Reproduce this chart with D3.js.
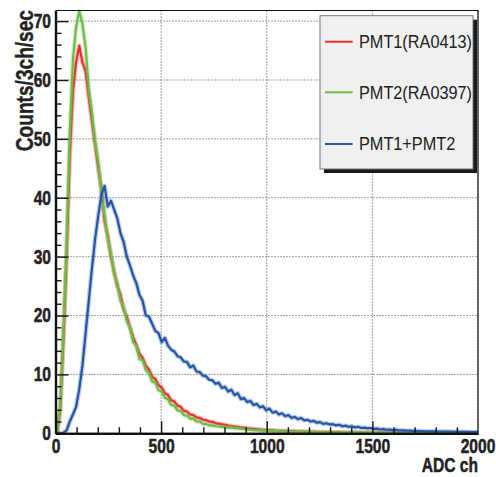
<!DOCTYPE html>
<html>
<head>
<meta charset="utf-8">
<script src="https://cdn.jsdelivr.net/npm/d3@7"></script>
<style>
  body { margin: 0; background: #fff; }
  svg { display: block; }
</style>
</head>
<body>
<div id="chart"></div>
<script>
// histogram bins are 15 ADC ch wide, starting at 0
const binWidth = 15

const pmt1 = [
  0, 4, 16, 30, 47, 58, 63, 65.8, 63, 61.5,
  57, 53, 49, 45, 41.5, 36, 33.5, 30, 27.5, 25,
  23.5, 21, 19.8, 18, 16.3, 15, 13.5, 12.8, 11.5, 10.8,
  9.6, 9.2, 8.2, 7.8, 6.8, 6.5, 5.6, 5.4, 4.7, 4.5,
  3.8, 3.7, 3.2, 3.1, 2.7, 2.6, 2.3, 2.25, 2.0, 1.95,
  1.7, 1.65, 1.5, 1.45, 1.3, 1.25, 1.1, 1.1, 0.95, 0.95,
  0.85, 0.8, 0.75, 0.7, 0.65, 0.6, 0.55, 0.55, 0.5, 0.45,
  0.42, 0.4, 0.38, 0.36, 0.34, 0.32, 0.3, 0.3, 0.28, 0.26,
  0.25, 0.24, 0.22, 0.21, 0.2, 0.19, 0.18, 0.17, 0.16, 0.15,
  0.14, 0.14, 0.13, 0.12, 0.12, 0.11, 0.1, 0.1, 0.1, 0.09,
  0.09, 0.09, 0.08, 0.08, 0.08, 0.07, 0.07, 0.07, 0.07, 0.06,
  0.06, 0.06, 0.06, 0.06, 0.05, 0.05, 0.05, 0.05, 0.05, 0.05,
  0.05, 0.05, 0.04, 0.04, 0.04, 0.04, 0.04, 0.04, 0.04, 0.04,
  0.04, 0.04, 0.04, 0.04
]

const pmt2 = [
  0, 4.5, 17.5, 32, 51, 63.5, 69, 71.8, 69.5, 65.5,
  58.5, 54.5, 49.5, 46, 40.5, 37, 33, 30.5, 27, 25.5,
  22.5, 21.5, 19, 18, 15.5, 14.8, 12.6, 12.4, 10.7, 10.2,
  8.8, 8.6, 7.3, 7.1, 6.0, 5.8, 4.8, 4.7, 3.9, 3.8,
  3.1, 3.0, 2.5, 2.5, 2.0, 2.0, 1.6, 1.6, 1.35, 1.35,
  1.2, 1.15, 1.1, 1.05, 0.95, 1.0, 0.85, 0.9, 0.75, 0.8,
  0.65, 0.6, 0.55, 0.58, 0.48, 0.5, 0.42, 0.45, 0.38, 0.4,
  0.34, 0.36, 0.3, 0.32, 0.27, 0.29, 0.24, 0.26, 0.22, 0.23,
  0.2, 0.21, 0.18, 0.19, 0.16, 0.17, 0.15, 0.15, 0.13, 0.14,
  0.12, 0.13, 0.11, 0.12, 0.1, 0.11, 0.09, 0.1, 0.09, 0.09,
  0.08, 0.08, 0.08, 0.07, 0.07, 0.07, 0.06, 0.06, 0.06, 0.06,
  0.05, 0.05, 0.05, 0.05, 0.05, 0.05, 0.04, 0.04, 0.04, 0.04,
  0.04, 0.04, 0.03, 0.03, 0.03, 0.03, 0.03, 0.03, 0.03, 0.03,
  0.03, 0.03, 0.03, 0.03
]

const pmtSum = [
  0, 0, 0.1, 0.5, 2, 3.2, 4.5, 7.5, 11.5, 17,
  22.5, 28, 33, 37, 40.5, 42, 38.5, 39.5, 38, 36.5,
  34, 32.5, 30, 28.5, 26.8, 25.5, 23.5, 22.5, 20, 19.8,
  18.6, 17.4, 17.0, 15.5, 16.2, 14.9, 14.2, 13.9, 13.1, 12.9,
  12.2, 12.1, 11.2, 11.5, 10.5, 10.4, 9.8, 9.7, 9.1, 9.0,
  8.4, 8.6, 7.7, 7.9, 7.1, 7.4, 6.5, 6.8, 5.8, 6.0,
  5.3, 5.5, 4.8, 5.0, 4.4, 4.6, 3.9, 4.2, 3.5, 3.7,
  3.2, 3.4, 2.9, 3.1, 2.6, 2.8, 2.4, 2.6, 2.2, 2.3,
  2.0, 2.1, 1.8, 1.9, 1.6, 1.7, 1.5, 1.55, 1.35, 1.45,
  1.2, 1.3, 1.1, 1.2, 1.0, 1.1, 0.9, 0.95, 0.85, 0.9,
  0.75, 0.8, 0.65, 0.72, 0.6, 0.65, 0.52, 0.58, 0.48, 0.5,
  0.45, 0.44, 0.42, 0.4, 0.38, 0.37, 0.35, 0.34, 0.33, 0.32,
  0.31, 0.3, 0.29, 0.28, 0.27, 0.26, 0.25, 0.25, 0.24, 0.23,
  0.22, 0.22, 0.21, 0.2
]

const seriesNames = ['PMT1(RA0413)', 'PMT2(RA0397)', 'PMT1+PMT2']
const seriesColors = ['#e8302e', '#6cbd45', '#2456a6']
const xTicks = [0, 500, 1000, 1500, 2000]
const yTicks = [0, 10, 20, 30, 40, 50, 60, 70]

// dimension stuff
const totalWidth = 496
const totalHeight = 477
const marginLeft = 55.5
const marginRight = 18
const marginTop = 10.5
const marginBottom = 43.7
const width = totalWidth - marginLeft - marginRight
const height = totalHeight - marginTop - marginBottom
const fontScale = 0.78
const fontFamily = '"Liberation Sans", Arial, sans-serif'

// scales
const scaleX = d3.scaleLinear().domain([0, 2000]).range([0, width])
const scaleY = d3.scaleLinear().domain([0, 71.8]).range([height, 0])

const $svg = d3.select('#chart').append('svg')
  .attr('width', totalWidth)
  .attr('height', totalHeight)

$svg.append('defs').append('clipPath')
  .attr('id', 'plot-clip')
  .append('rect')
  .attr('width', width)
  .attr('height', height + 1)
  .attr('y', -1)

const $g = $svg.append('g')
  .attr('transform', `translate(${marginLeft}, ${marginTop})`)

// dotted grid
const $grid = $g.append('g').attr('class', 'g-grid')
$grid.selectAll('.grid-x')
  .data(xTicks.slice(1))
  .enter()
  .append('line')
  .attr('class', 'grid-x')
  .attr('x1', d => scaleX(d))
  .attr('x2', d => scaleX(d))
  .attr('y1', 0)
  .attr('y2', height)
$grid.selectAll('.grid-y')
  .data(yTicks.slice(1))
  .enter()
  .append('line')
  .attr('class', 'grid-y')
  .attr('x1', 0)
  .attr('x2', width)
  .attr('y1', d => scaleY(d))
  .attr('y2', d => scaleY(d))
$grid.selectAll('line')
  .attr('stroke', '#444')
  .attr('stroke-width', 1)
  .attr('stroke-dasharray', '1,2')

// histograms, one point per bin centre
const line = d3.line()
  .x(d => scaleX(d[0]))
  .y(d => scaleY(d[1]))

function toPoints(values) {
  const pts = values.map((v, i) => [i * binWidth + binWidth / 2, v])
  pts.unshift([0, values[0]])
  return pts
}

const $vis = $g.append('g').attr('class', 'g-vis').attr('clip-path', 'url(#plot-clip)')
const histos = [pmt1, pmt2, pmtSum]

histos.forEach((values, i) => {
  const pts = toPoints(values)
  $vis.append('path')
    .attr('d', line(pts))
    .attr('fill', 'none')
    .attr('stroke', seriesColors[i])
    .attr('stroke-opacity', 0.3)
    .attr('stroke-width', 4.6)
    .attr('stroke-linejoin', 'round')
  $vis.append('path')
    .attr('d', line(pts))
    .attr('fill', 'none')
    .attr('stroke', seriesColors[i])
    .attr('stroke-width', 2.2)
    .attr('stroke-linejoin', 'round')
})

// frame (top and right)
$g.append('path')
  .attr('d', `M0,0H${width}V${height}`)
  .attr('fill', 'none')
  .attr('stroke', '#111')
  .attr('stroke-width', 1.2)

// minor ticks
const yMinor = d3.range(0, 72, 2).filter(d => d % 10 !== 0)
const xMinor = d3.range(0, 2001, 100).filter(d => d % 500 !== 0)

$g.append('g')
  .attr('class', 'axis-y-minor')
  .call(d3.axisLeft(scaleY).tickValues(yMinor).tickSize(-6).tickSizeOuter(0).tickFormat(''))
$g.append('g')
  .attr('class', 'axis-x-minor')
  .attr('transform', `translate(0, ${height})`)
  .call(d3.axisBottom(scaleX).tickValues(xMinor).tickSize(-6).tickSizeOuter(0).tickFormat(''))

// major axes
$g.append('g')
  .attr('class', 'axis-y')
  .call(d3.axisLeft(scaleY).tickValues(yTicks).tickSize(-13).tickSizeOuter(0).tickPadding(4.5).tickFormat(d3.format('d')))
const $axisX = $g.append('g')
  .attr('class', 'axis-x')
  .attr('transform', `translate(0, ${height})`)
  .call(d3.axisBottom(scaleX).tickValues(xTicks.slice(0, 4)).tickSize(-12).tickSizeOuter(0).tickPadding(6).tickFormat(d3.format('d')))

// 2000 label sits on the frame edge, no tick mark
$axisX.append('g')
  .attr('class', 'tick')
  .attr('transform', `translate(${scaleX(2000)}, 0)`)
  .append('text')
  .attr('y', 6)
  .attr('dy', '0.71em')
  .attr('text-anchor', 'middle')
  .text('2000')

$g.selectAll('.domain').attr('stroke', '#111').attr('stroke-width', 2.2)
$g.selectAll('.tick line').attr('stroke', '#111').attr('stroke-width', 1.4)
$g.selectAll('.tick text')
  .style('font-family', fontFamily)
  .style('font-weight', 700)
  .style('font-size', '20px')
  .attr('fill', '#222')
  .attr('stroke', '#222')
  .attr('stroke-width', 0.5)
  .each(function() {
    const t = d3.select(this)
    const x = +t.attr('x') || 0
    t.attr('x', x / fontScale).attr('transform', `scale(${fontScale},1)`)
  })

// axis titles
$svg.append('text')
  .attr('transform', `translate(32.5, 10) rotate(-90) scale(${fontScale},1)`)
  .attr('text-anchor', 'end')
  .style('font-family', fontFamily)
  .style('font-weight', 700)
  .style('font-size', '24.5px')
  .attr('fill', '#222')
  .attr('stroke', '#222')
  .attr('stroke-width', 0.4)
  .text('Counts/3ch/sec')

$svg.append('text')
  .attr('transform', `translate(478, 472) scale(${fontScale},1)`)
  .attr('text-anchor', 'end')
  .style('font-family', fontFamily)
  .style('font-weight', 700)
  .style('font-size', '20px')
  .attr('fill', '#222')
  .attr('stroke', '#222')
  .attr('stroke-width', 0.5)
  .text('ADC ch')

// legend
const legendX = 320
const legendY = 15.7
const legendW = 153
const legendH = 153.3
const $legend = $svg.append('g').attr('class', 'g-legend')

$legend.append('rect')
  .attr('x', legendX + 4)
  .attr('y', legendY + 4)
  .attr('width', legendW)
  .attr('height', legendH)
  .attr('fill', '#1a1a1a')
$legend.append('rect')
  .attr('x', legendX)
  .attr('y', legendY)
  .attr('width', legendW)
  .attr('height', legendH)
  .attr('fill', '#f0f0f0')
  .attr('stroke', '#777')
  .attr('stroke-width', 1)

const entryY = [41.7, 92.3, 144]
const entries = $legend.selectAll('.legend-entry')
  .data(seriesNames)
  .enter()
  .append('g')
  .attr('class', 'legend-entry')
  .attr('transform', (d, i) => `translate(${legendX}, ${entryY[i]})`)

entries.append('line')
  .attr('x1', 5)
  .attr('x2', 32.7)
  .attr('stroke', (d, i) => seriesColors[i])
  .attr('stroke-width', 2)

entries.append('text')
  .attr('transform', 'translate(39, 0) scale(0.88,1)')
  .attr('dy', '0.35em')
  .style('font-family', fontFamily)
  .style('font-size', '18.5px')
  .attr('fill', '#222')
  .text(d => d)
</script>
</body>
</html>
